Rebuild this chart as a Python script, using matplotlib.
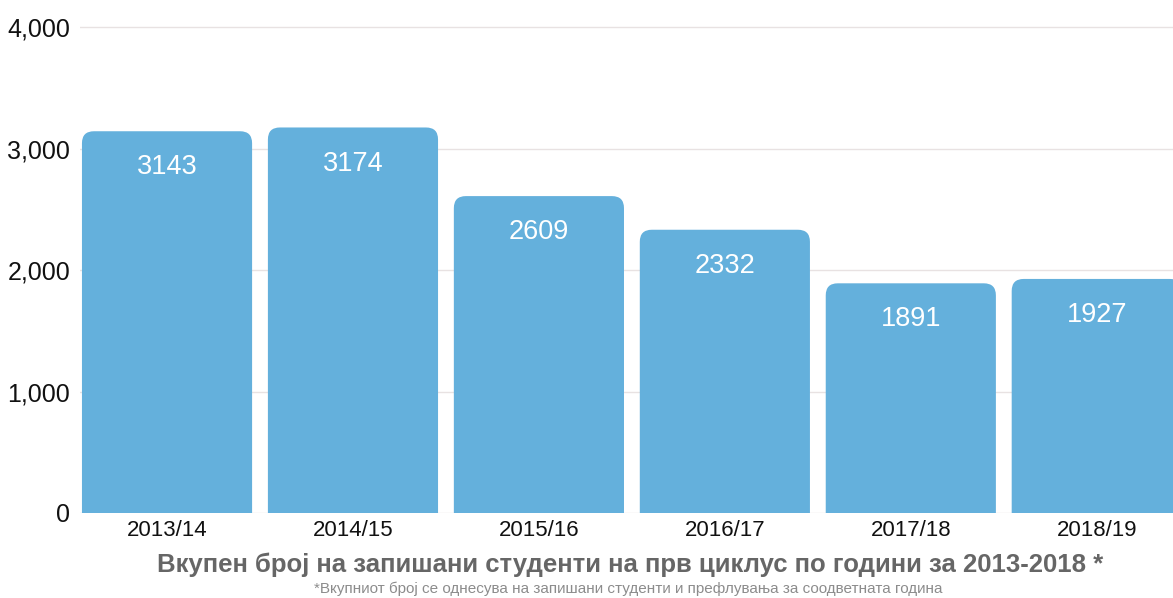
import matplotlib
matplotlib.use("Agg")
import matplotlib.pyplot as plt
from matplotlib.patches import FancyBboxPatch

years = ["2013/14", "2014/15", "2015/16", "2016/17", "2017/18", "2018/19"]
students = [3143, 3174, 2609, 2332, 1891, 1927]
yticks = [0, 1000, 2000, 3000, 4000]

BAR = "#64b0dc"; GRID = "#e8e2e2"; INK = "#111111"; TITLE = "#666666"; NOTE = "#8c8c8c"
plt.rcParams["font.family"] = ["Liberation Sans", "DejaVu Sans"]

fig = plt.figure(figsize=(11.73, 5.98), dpi=100)
ax = fig.add_axes([80/1173, 1-513/598, 1-80/1173, (513-15)/598])
ax.set_xlim(-0.468, 5.41)
ax.set_ylim(0, 4100)

# rounded bars: draw plain bars, then swap each for a rounded patch of same geometry
bars = ax.bar(range(len(years)), students, width=0.915, color=BAR, zorder=3)
px_x = (5.41 + 0.468) / (1173 - 80)
px_y = 4100 / (513 - 15)
r = 12 * px_x
for b in bars:
    x0, w, h = b.get_x(), b.get_width(), b.get_height()
    b.set_visible(False)
    ext = 14 * px_y  # push the lower rounded corners below the axis
    p = FancyBboxPatch((x0, -ext), w, h + ext, boxstyle=f"round,pad=0,rounding_size={r}",
                       mutation_aspect=px_y / px_x, fc=BAR, ec="none", zorder=3)
    ax.add_patch(p)

for i, v in enumerate(students):
    ax.annotate(str(v), (i, v), xytext=(0, -26), textcoords="offset points",
                ha="center", va="center", color="white", fontsize=19.5)

ax.set_yticks(yticks)
ax.set_yticklabels([f"{t:,}" for t in yticks], fontsize=18, color=INK)
ax.set_xticks(range(len(years)))
ax.set_xticklabels(years, fontsize=16, color=INK)
ax.tick_params(length=0)
ax.tick_params(axis="y", pad=7)
ax.tick_params(axis="x", pad=5)
ax.grid(axis="y", color=GRID, lw=1, zorder=0)
for s in ax.spines.values():
    s.set_visible(False)

fig.text(630/1173, 1-565/598, "Вкупен број на запишани студенти на прв циклус по години за 2013-2018 *",
         ha="center", va="center", fontsize=18.5, fontweight="bold", color=TITLE)
fig.text(628/1173, 1-589/598,
         "*Вкупниот број се однесува на запишани студенти и префлувања за соодветната година",
         ha="center", va="center", fontsize=11, color=NOTE)

fig.savefig("out.png", dpi=100)
